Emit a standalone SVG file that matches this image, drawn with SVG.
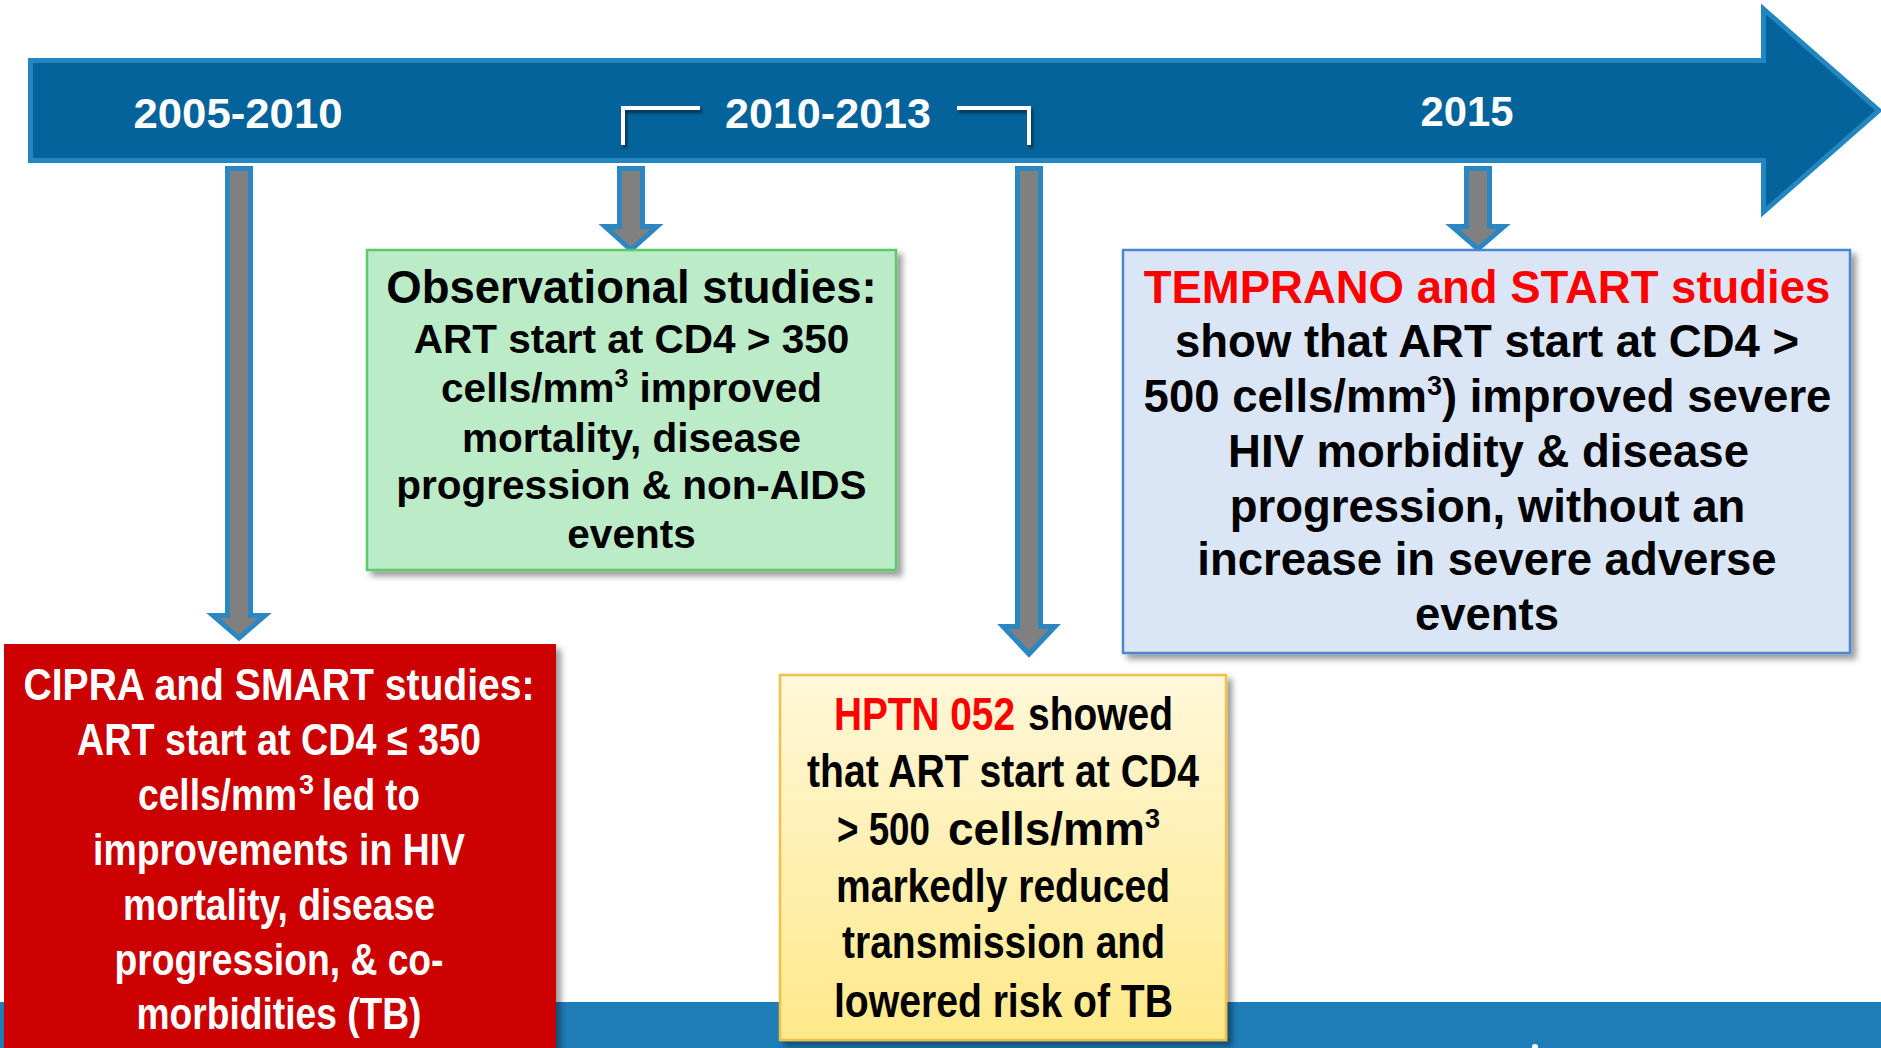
<svg xmlns="http://www.w3.org/2000/svg" width="1881" height="1048" viewBox="0 0 1881 1048">
<style>
.yr{font-family:"Liberation Sans",Arial,sans-serif;font-weight:bold;font-size:42px;fill:#fff;text-anchor:middle}
.br{fill:none;stroke:#fff;stroke-width:4}
.conn{fill:#808080;stroke:#2A87C2;stroke-width:5;stroke-linejoin:miter}
.t{font-family:"Liberation Sans",Arial,sans-serif;font-weight:bold;text-anchor:middle;fill:#000}
.s{text-anchor:start}
.g{font-size:40.5px}
.gh{font-size:45.5px}
.b{font-size:45.5px}
.r{font-size:44px;fill:#fff}
.y{font-size:46px}
.red{fill:#FF0000}
</style>
<defs>
<filter id="sh" x="-5%" y="-5%" width="115%" height="115%">
<feDropShadow dx="5" dy="5" stdDeviation="3" flood-color="#000" flood-opacity="0.4"/>
</filter>
<filter id="lsh" x="-10%" y="-10%" width="130%" height="130%">
<feDropShadow dx="2" dy="3" stdDeviation="1.5" flood-color="#000" flood-opacity="0.5"/>
</filter>
<linearGradient id="yg" x1="0" y1="0" x2="0" y2="1">
<stop offset="0" stop-color="#FFF7D9"/>
<stop offset="1" stop-color="#FFE98A"/>
</linearGradient>
</defs>
<rect width="1881" height="1048" fill="#fff"/>
<rect x="0" y="1002" width="1881" height="46" fill="#1F7DB8"/>
<circle cx="1535" cy="1047" r="3" fill="#fff"/>

<g id="timeline">
<path d="M30.5,60.5 H1763.5 V9 L1879,110.5 L1763.5,212 V160.5 H30.5 Z" fill="#03639A" stroke="#2287C1" stroke-width="5"/>
<text class="yr" x="238" y="128" textLength="209" lengthAdjust="spacingAndGlyphs">2005-2010</text>
<text class="yr" x="828" y="128" textLength="206" lengthAdjust="spacingAndGlyphs">2010-2013</text>
<text class="yr" x="1467" y="126" textLength="93" lengthAdjust="spacingAndGlyphs">2015</text>
<g filter="url(#lsh)">
<path class="br" d="M623,145 V108 H700"/>
<path class="br" d="M957,108 H1029 V145"/>
</g>
</g>

<g id="connectors">
<path class="conn" d="M227.5,168.5 H250.5 V615.5 H265 L239,638 L213,615.5 H227.5 Z"/>
<path class="conn" d="M619.5,168.5 H642.5 V226.5 H657 L631,250 L605,226.5 H619.5 Z"/>
<path class="conn" d="M1017.5,168.5 H1040.5 V626.5 H1055 L1029,654 L1003,626.5 H1017.5 Z"/>
<path class="conn" d="M1466.5,168.5 H1489.5 V226.5 H1504 L1478,249 L1452,226.5 H1466.5 Z"/>
</g>

<g id="observational">
<rect x="367" y="250" width="529" height="320" fill="#BCEBC8" stroke="#5CC96D" stroke-width="2.5" filter="url(#sh)"/>
<text class="t gh" x="631.5" y="303">Observational studies:</text>
<text class="t g" x="631.5" y="353">ART start at CD4 &gt; 350</text>
<text class="t g" x="631.5" y="402">cells/mm<tspan font-size="25" dy="-15">3</tspan><tspan dy="15"> improved</tspan></text>
<text class="t g" x="631.5" y="452">mortality, disease</text>
<text class="t g" x="631.5" y="499">progression &amp; non-AIDS</text>
<text class="t g" x="631.5" y="548">events</text>
</g>

<g id="cipra-smart">
<rect x="4" y="644" width="552" height="420" fill="#CC0505" filter="url(#sh)"/>
<text class="t r" x="279" y="700" textLength="511" lengthAdjust="spacingAndGlyphs">CIPRA and SMART studies:</text>
<text class="t r" x="279" y="755" textLength="404" lengthAdjust="spacingAndGlyphs">ART start at CD4 ≤ 350</text>
<text class="t r s" x="138" y="810" textLength="159" lengthAdjust="spacingAndGlyphs">cells/mm</text>
<text class="t r s" x="299" y="794" style="font-size:27px">3</text>
<text class="t r s" x="322" y="810" textLength="98" lengthAdjust="spacingAndGlyphs">led to</text>
<text class="t r" x="279" y="865" textLength="372" lengthAdjust="spacingAndGlyphs">improvements in HIV</text>
<text class="t r" x="279" y="920" textLength="312" lengthAdjust="spacingAndGlyphs">mortality, disease</text>
<text class="t r" x="279" y="975" textLength="329" lengthAdjust="spacingAndGlyphs">progression, &amp; co-</text>
<text class="t r" x="279" y="1029" textLength="285" lengthAdjust="spacingAndGlyphs">morbidities (TB)</text>
</g>

<g id="hptn052">
<rect x="780" y="675" width="446" height="365" fill="url(#yg)" stroke="#F1C04A" stroke-width="2.5" filter="url(#sh)"/>
<text class="t y s red" x="834" y="730" textLength="181" lengthAdjust="spacingAndGlyphs">HPTN 052</text>
<text class="t y s" x="1028" y="730" textLength="145" lengthAdjust="spacingAndGlyphs">showed</text>
<text class="t y" x="1003" y="787" textLength="392" lengthAdjust="spacingAndGlyphs">that ART start at CD4</text>
<text class="t y s" x="837" y="845" textLength="93" lengthAdjust="spacingAndGlyphs">&gt; 500</text>
<text class="t s" x="948" y="845" style="font-size:46px">cells/mm<tspan font-size="27" dy="-17">3</tspan></text>
<text class="t y" x="1003" y="902" textLength="334" lengthAdjust="spacingAndGlyphs">markedly reduced</text>
<text class="t y" x="1003.5" y="958" textLength="323" lengthAdjust="spacingAndGlyphs">transmission and</text>
<text class="t y" x="1003.5" y="1017" textLength="339" lengthAdjust="spacingAndGlyphs">lowered risk of TB</text>
</g>

<g id="temprano-start">
<rect x="1123" y="250" width="727" height="403" fill="#DAE6F5" stroke="#4A87D2" stroke-width="2.5" filter="url(#sh)"/>
<text class="t b red" x="1487" y="303">TEMPRANO and START studies</text>
<text class="t b" x="1487" y="357">show that ART start at CD4 &gt;</text>
<text class="t b" x="1487.5" y="412">500 cells/mm<tspan font-size="27" dy="-17">3</tspan><tspan dy="17">) improved severe</tspan></text>
<text class="t b" x="1488.5" y="467">HIV morbidity &amp; disease</text>
<text class="t b" x="1487.5" y="522">progression, without an</text>
<text class="t b" x="1487" y="575">increase in severe adverse</text>
<text class="t b" x="1487" y="630">events</text>
</g>
</svg>
